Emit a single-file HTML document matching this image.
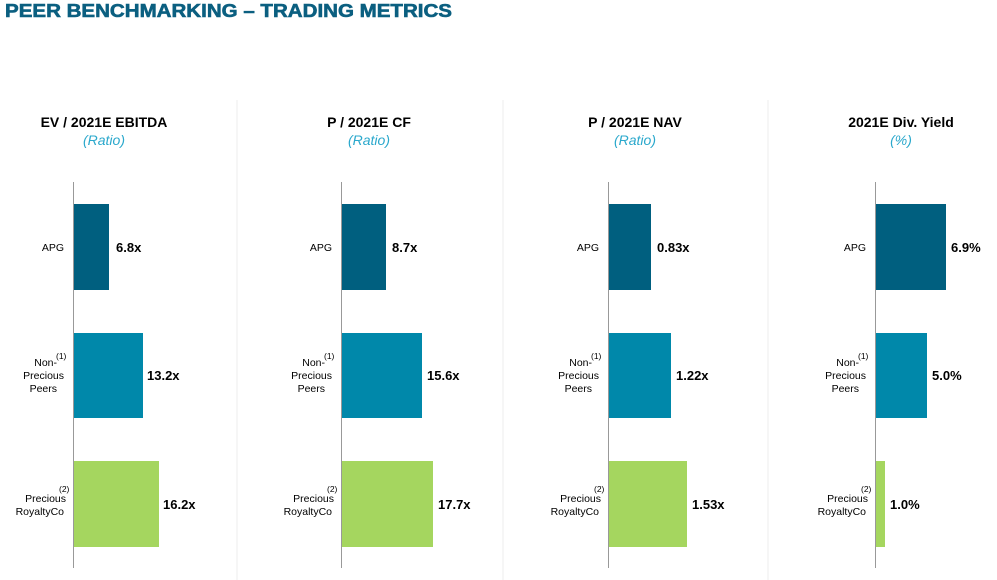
<!DOCTYPE html>
<html><head><meta charset="utf-8"><style>
html,body{margin:0;padding:0;background:#fff;}
svg{display:block;font-family:"Liberation Sans",Arial,sans-serif;}
</style></head><body>
<svg width="997" height="580" viewBox="0 0 997 580" xmlns="http://www.w3.org/2000/svg">
<text x="5" y="17" font-size="18" font-weight="bold" fill="#0b5f80" textLength="447" lengthAdjust="spacingAndGlyphs" stroke="#0b5f80" stroke-width="0.6">PEER BENCHMARKING – TRADING METRICS</text>
<g stroke="#ececec" stroke-width="1">
<line x1="237" y1="100" x2="237" y2="580"/>
<line x1="503" y1="100" x2="503" y2="580"/>
<line x1="768" y1="100" x2="768" y2="580"/>
</g>
<g id="p1">
<text x="104" y="127" font-size="14" font-weight="bold" text-anchor="middle" fill="#000">EV / 2021E EBITDA</text>
<text x="104" y="145" font-size="14" font-style="italic" text-anchor="middle" fill="#2aa8cc">(Ratio)</text>
<rect x="74" y="204" width="35" height="86" fill="#005f7f"/>
<rect x="74" y="333" width="69" height="85" fill="#0088aa"/>
<rect x="74" y="461" width="85" height="86" fill="#a5d65f"/>
<line x1="73.5" y1="182" x2="73.5" y2="568" stroke="#999" stroke-width="1"/>
<text x="116" y="252" font-size="13" font-weight="bold">6.8x</text>
<text x="147" y="380" font-size="13" font-weight="bold">13.2x</text>
<text x="163" y="509" font-size="13" font-weight="bold">16.2x</text>
</g>
<g id="p2">
<text x="369" y="127" font-size="14" font-weight="bold" text-anchor="middle">P / 2021E CF</text>
<text x="369" y="145" font-size="14" font-style="italic" text-anchor="middle" fill="#2aa8cc">(Ratio)</text>
<rect x="342" y="204" width="44" height="86" fill="#005f7f"/>
<rect x="342" y="333" width="80" height="85" fill="#0088aa"/>
<rect x="342" y="461" width="91" height="86" fill="#a5d65f"/>
<line x1="341.5" y1="182" x2="341.5" y2="568" stroke="#999"/>
<text x="392" y="252" font-size="13" font-weight="bold">8.7x</text>
<text x="427" y="380" font-size="13" font-weight="bold">15.6x</text>
<text x="438" y="509" font-size="13" font-weight="bold">17.7x</text>
</g>
<g id="p3">
<text x="635" y="127" font-size="14" font-weight="bold" text-anchor="middle">P / 2021E NAV</text>
<text x="635" y="145" font-size="14" font-style="italic" text-anchor="middle" fill="#2aa8cc">(Ratio)</text>
<rect x="609" y="204" width="42" height="86" fill="#005f7f"/>
<rect x="609" y="333" width="62" height="85" fill="#0088aa"/>
<rect x="609" y="461" width="78" height="86" fill="#a5d65f"/>
<line x1="608.5" y1="182" x2="608.5" y2="568" stroke="#999"/>
<text x="657" y="252" font-size="13" font-weight="bold">0.83x</text>
<text x="676" y="380" font-size="13" font-weight="bold">1.22x</text>
<text x="692" y="509" font-size="13" font-weight="bold">1.53x</text>
</g>
<g id="p4">
<text x="901" y="127" font-size="14" font-weight="bold" text-anchor="middle">2021E Div. Yield</text>
<text x="901" y="145" font-size="14" font-style="italic" text-anchor="middle" fill="#2aa8cc">(%)</text>
<rect x="876" y="204" width="70" height="86" fill="#005f7f"/>
<rect x="876" y="333" width="51" height="85" fill="#0088aa"/>
<rect x="876" y="461" width="9" height="86" fill="#a5d65f"/>
<line x1="875.5" y1="182" x2="875.5" y2="568" stroke="#999"/>
<text x="951" y="252" font-size="13" font-weight="bold">6.9%</text>
<text x="932" y="380" font-size="13" font-weight="bold">5.0%</text>
<text x="890" y="509" font-size="13" font-weight="bold">1.0%</text>
</g>
<g font-size="10.5" fill="#000" text-anchor="end">
<!-- category labels per panel: axis offset -->
<g transform="translate(0,0)">
<text x="64" y="251">APG</text>
<text x="57" y="366">Non-</text><text x="64" y="379">Precious</text><text x="57" y="392">Peers</text>
<text x="66" y="502">Precious</text><text x="64" y="515">RoyaltyCo</text>
</g>
<g transform="translate(268,0)">
<text x="64" y="251">APG</text>
<text x="57" y="366">Non-</text><text x="64" y="379">Precious</text><text x="57" y="392">Peers</text>
<text x="66" y="502">Precious</text><text x="64" y="515">RoyaltyCo</text>
</g>
<g transform="translate(535,0)">
<text x="64" y="251">APG</text>
<text x="57" y="366">Non-</text><text x="64" y="379">Precious</text><text x="57" y="392">Peers</text>
<text x="66" y="502">Precious</text><text x="64" y="515">RoyaltyCo</text>
</g>
<g transform="translate(802,0)">
<text x="64" y="251">APG</text>
<text x="57" y="366">Non-</text><text x="64" y="379">Precious</text><text x="57" y="392">Peers</text>
<text x="66" y="502">Precious</text><text x="64" y="515">RoyaltyCo</text>
</g>
</g>
<g font-size="8.5" fill="#000">
<text x="56" y="359">(1)</text><text x="59" y="492">(2)</text>
<text x="324" y="359">(1)</text><text x="327" y="492">(2)</text>
<text x="591" y="359">(1)</text><text x="594" y="492">(2)</text>
<text x="858" y="359">(1)</text><text x="861" y="492">(2)</text>
</g>
</svg>
</body></html>
